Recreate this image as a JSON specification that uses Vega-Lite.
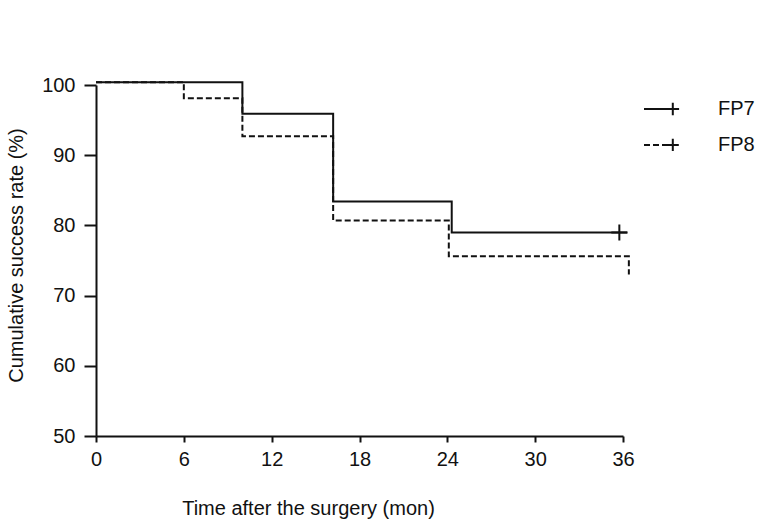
{
  "$schema": "https://vega.github.io/schema/vega-lite/v6.json",
  "autosize": {"type": "none"},
  "width": 527,
  "height": 351,
  "padding": {"left": 96, "top": 85, "right": 157, "bottom": 94},
  "background": "white",
  "config": {
    "view": {"stroke": null},
    "font": "Liberation Sans",
    "axis": {
      "grid": false,
      "labelFlush": false,
      "domainColor": "#111",
      "domainWidth": 2,
      "tickColor": "#111",
      "tickWidth": 2,
      "labelColor": "#111",
      "titleColor": "#111",
      "labelFont": "Liberation Sans",
      "titleFont": "Liberation Sans",
      "labelFontSize": 20,
      "titleFontSize": 20,
      "titleFontWeight": "normal"
    },
    "legend": {
      "labelFont": "Liberation Sans",
      "labelFontSize": 20,
      "labelColor": "#111"
    }
  },
  "datasets": {
    "km": [
      {"group": "FP7", "t": 0, "s": 100.4},
      {"group": "FP7", "t": 10, "s": 95.9},
      {"group": "FP7", "t": 16.2, "s": 83.4},
      {"group": "FP7", "t": 24.3, "s": 79.0},
      {"group": "FP7", "t": 36.3, "s": 79.0},
      {"group": "FP8", "t": 0, "s": 100.4},
      {"group": "FP8", "t": 6, "s": 98.1},
      {"group": "FP8", "t": 10, "s": 92.7},
      {"group": "FP8", "t": 16.2, "s": 80.7},
      {"group": "FP8", "t": 24.1, "s": 75.6},
      {"group": "FP8", "t": 36.4, "s": 75.6},
      {"group": "FP8", "t": 36.4, "s": 73.0}
    ],
    "censor": [
      {"group": "FP7", "t": 35.75, "s": 79.0}
    ]
  },
  "layer": [
    {
      "data": {"name": "km"},
      "mark": {"type": "line", "interpolate": "step-after", "color": "#111", "strokeWidth": 2},
      "encoding": {
        "x": {
          "field": "t", "type": "quantitative",
          "scale": {"domain": [0, 36], "nice": false},
          "axis": {
            "values": [0, 6, 12, 18, 24, 30, 36],
            "title": "Time after the surgery (mon)",
            "tickSize": 6,
            "labelPadding": 7,
            "titleX": 212,
            "titleY": 78,
            "titleAnchor": null,
            "titleAlign": "center",
            "titleBaseline": "alphabetic"
          }
        },
        "y": {
          "field": "s", "type": "quantitative",
          "scale": {"domain": [50, 100], "nice": false, "zero": false},
          "axis": {
            "values": [50, 60, 70, 80, 90, 100],
            "title": "Cumulative success rate (%)",
            "tickSize": 12,
            "labelPadding": 9,
            "titleAngle": -90,
            "titleX": -80,
            "titleY": 170,
            "titleAlign": "center",
            "titleBaseline": "middle"
          }
        },
        "strokeDash": {
          "field": "group", "type": "nominal",
          "scale": {"domain": ["FP7", "FP8"], "range": [[1, 0], [6, 3]]},
          "legend": {
            "title": null,
            "orient": "none",
            "legendX": 547,
            "legendY": 5,
            "padding": 0,
            "symbolType": "M-1,0L0.25,0M0.25,0L0.6,0M0.6,0L0.95,0M0.6,-0.35L0.6,0M0.6,0L0.6,0.35",
            "symbolSize": 1296,
            "symbolStrokeWidth": 2,
            "symbolStrokeColor": "#111",
            "symbolFillColor": "transparent",
            "labelOffset": 37,
            "rowPadding": 6
          }
        }
      }
    },
    {
      "data": {"name": "censor"},
      "mark": {
        "type": "point",
        "shape": "M-1,0L1,0M0,-1L0,1",
        "filled": false,
        "stroke": "#111",
        "strokeWidth": 2,
        "size": 256,
        "opacity": 1
      },
      "encoding": {
        "x": {"field": "t", "type": "quantitative"},
        "y": {"field": "s", "type": "quantitative"}
      }
    }
  ]
}
